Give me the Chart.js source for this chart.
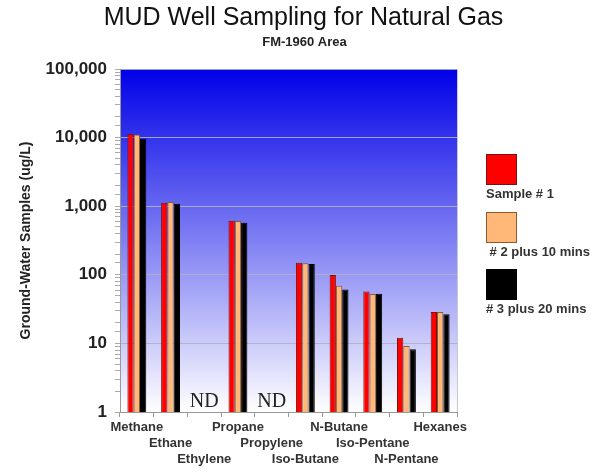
<!DOCTYPE html>
<html>
<head>
<meta charset="utf-8">
<script src="https://cdn.jsdelivr.net/npm/chart.js@4"></script>
<style>
  html, body { margin: 0; padding: 0; background: #fff; }
  #wrap { position: relative; width: 605px; height: 472px; }
  #legend { position: absolute; left: 486px; top: 154px; font-family: "Liberation Sans", Arial, sans-serif; font-weight: bold; font-size: 13px; color: #333; }
  .item { position: absolute; left: 0; white-space: pre; }
  .box { width: 29px; height: 29px; border: 1px solid; }
  .lbl { margin-top: 1px; }
</style>
</head>
<body>
<div id="wrap">
  <canvas id="c" width="605" height="472"></canvas>
  <div id="legend"></div>
</div>
<script>
const chartTitle = 'MUD Well Sampling for Natural Gas';
const chartSubtitle = 'FM-1960 Area';
const categories = [
  ['Methane'], ['', 'Ethane'], ['', '', 'Ethylene'],
  ['Propane'], ['', 'Propylene'], ['', '', 'Iso-Butane'],
  ['N-Butane'], ['', 'Iso-Pentane'], ['', '', 'N-Pentane'],
  ['Hexanes']
];
const seriesNames = ['Sample # 1', ' # 2 plus 10 mins', '# 3 plus 20 mins'];
const sample1 = [11300, 1120, null, 615, null, 150, 99, 57, 12.1, 28.7];
const sample2 = [11100, 1150, null, 608, null, 147, 69, 52.5, 9.2, 28.7];
const sample3 = [9600, 1090, null, 575, null, 144, 61, 53, 8.2, 26.5];
const yTickValues = [1, 10, 100, 1000, 10000, 100000];
const ndLabel = 'ND';

const fillColors = ['#ff0000', '#ffb878', '#000000'];
const edgeColors = ['#7a1010', '#8a5a30', '#000000'];
const seriesData = [sample1, sample2, sample3];

const bgPlugin = {
  id: 'bg',
  beforeDraw(chart) {
    const { ctx, chartArea: a } = chart;
    const g = ctx.createLinearGradient(0, a.top, 0, a.bottom);
    g.addColorStop(0, 'rgb(0,0,232)');
    g.addColorStop(1, 'rgb(255,255,255)');
    ctx.save();
    ctx.fillStyle = g;
    ctx.fillRect(a.left, a.top, a.right - a.left, a.bottom - a.top);
    // titles centred on the whole canvas
    ctx.textAlign = 'center';
    ctx.textBaseline = 'middle';
    ctx.fillStyle = '#111';
    ctx.font = '25px "Liberation Sans", Arial, sans-serif';
    ctx.fillText(chartTitle, chart.width / 2 + 1, 18);
    ctx.fillStyle = '#222';
    ctx.font = 'bold 13px "Liberation Sans", Arial, sans-serif';
    ctx.fillText(chartSubtitle, chart.width / 2 + 2, 42);
    ctx.restore();
  },
  afterDraw(chart) {
    const { ctx, chartArea: a } = chart;
    ctx.save();
    ctx.strokeStyle = '#c8c8d0';
    ctx.lineWidth = 1;
    ctx.beginPath();
    ctx.moveTo(a.right + 0.5, a.top);
    ctx.lineTo(a.right + 0.5, a.bottom);
    ctx.stroke();
    ctx.restore();
  }
};

const ndPlugin = {
  id: 'nd',
  afterDatasetsDraw(chart) {
    const { ctx } = chart;
    const xs = chart.scales.x, ys = chart.scales.y;
    ctx.save();
    ctx.font = '20px "Liberation Serif", serif';
    ctx.fillStyle = '#222';
    ctx.textAlign = 'center';
    ctx.textBaseline = 'alphabetic';
    categories.forEach((c, i) => {
      if (seriesData.every(s => s[i] === null)) {
        ctx.fillText(ndLabel, xs.getPixelForValue(i), ys.getPixelForValue(1) - 5);
      }
    });
    ctx.restore();
  }
};

new Chart(document.getElementById('c'), {
  type: 'bar',
  data: {
    labels: categories,
    datasets: seriesData.map((d, i) => ({
      label: seriesNames[i],
      data: d,
      backgroundColor: fillColors[i],
      borderColor: edgeColors[i],
      borderWidth: 1,
      categoryPercentage: 0.56,
      barPercentage: 1.0
    }))
  },
  options: {
    responsive: false,
    animation: false,
    layout: { padding: { left: 0, right: 148, top: 69, bottom: 0 } },
    plugins: {
      legend: { display: false },
      tooltip: { enabled: false },
      title: { display: false },
      subtitle: { display: false }
    },
    scales: {
      x: {
        offset: true,
        grid: { display: true, drawOnChartArea: false, tickLength: 5, color: '#999', offset: true },
        border: { color: '#999' },
        ticks: {
          autoSkip: false, maxRotation: 0, minRotation: 0, padding: 2,
          color: '#333',
          font: { family: '"Liberation Sans", Arial, sans-serif', size: 13, weight: 'bold', lineHeight: '16px' }
        },
        afterFit(scale) { scale.height = 60; }
      },
      y: {
        type: 'logarithmic',
        min: 1,
        max: 100000,
        border: { color: '#999' },
        grid: {
          tickLength: 5,
          color: ctx => (ctx.tick && yTickValues.includes(ctx.tick.value)) ? 'rgba(175,175,195,0.9)' : 'rgba(0,0,0,0)',
          tickColor: '#aaa'
        },
        ticks: {
          autoSkip: false,
          padding: 8,
          color: '#222',
          font: { family: '"Liberation Sans", Arial, sans-serif', size: 17, weight: 'bold' },
          callback: v => yTickValues.includes(v) ? v.toLocaleString('en-US') : ''
        },
        title: {
          display: true,
          text: 'Ground-Water Samples (ug/L)',
          color: '#222',
          font: { family: '"Liberation Sans", Arial, sans-serif', size: 14, weight: 'bold' },
          padding: { top: 18, bottom: 0 }
        },
        afterFit(scale) { scale.width = 120; }
      }
    }
  },
  plugins: [bgPlugin, ndPlugin]
});

const legend = document.getElementById('legend');
const offsets = [0, 58, 115];
seriesNames.forEach((n, i) => {
  const it = document.createElement('div');
  it.className = 'item';
  it.style.top = offsets[i] + 'px';
  const b = document.createElement('div');
  b.className = 'box';
  b.style.background = fillColors[i];
  b.style.borderColor = edgeColors[i];
  const l = document.createElement('div');
  l.className = 'lbl';
  l.textContent = n;
  it.appendChild(b); it.appendChild(l);
  legend.appendChild(it);
});
</script>
</body>
</html>
